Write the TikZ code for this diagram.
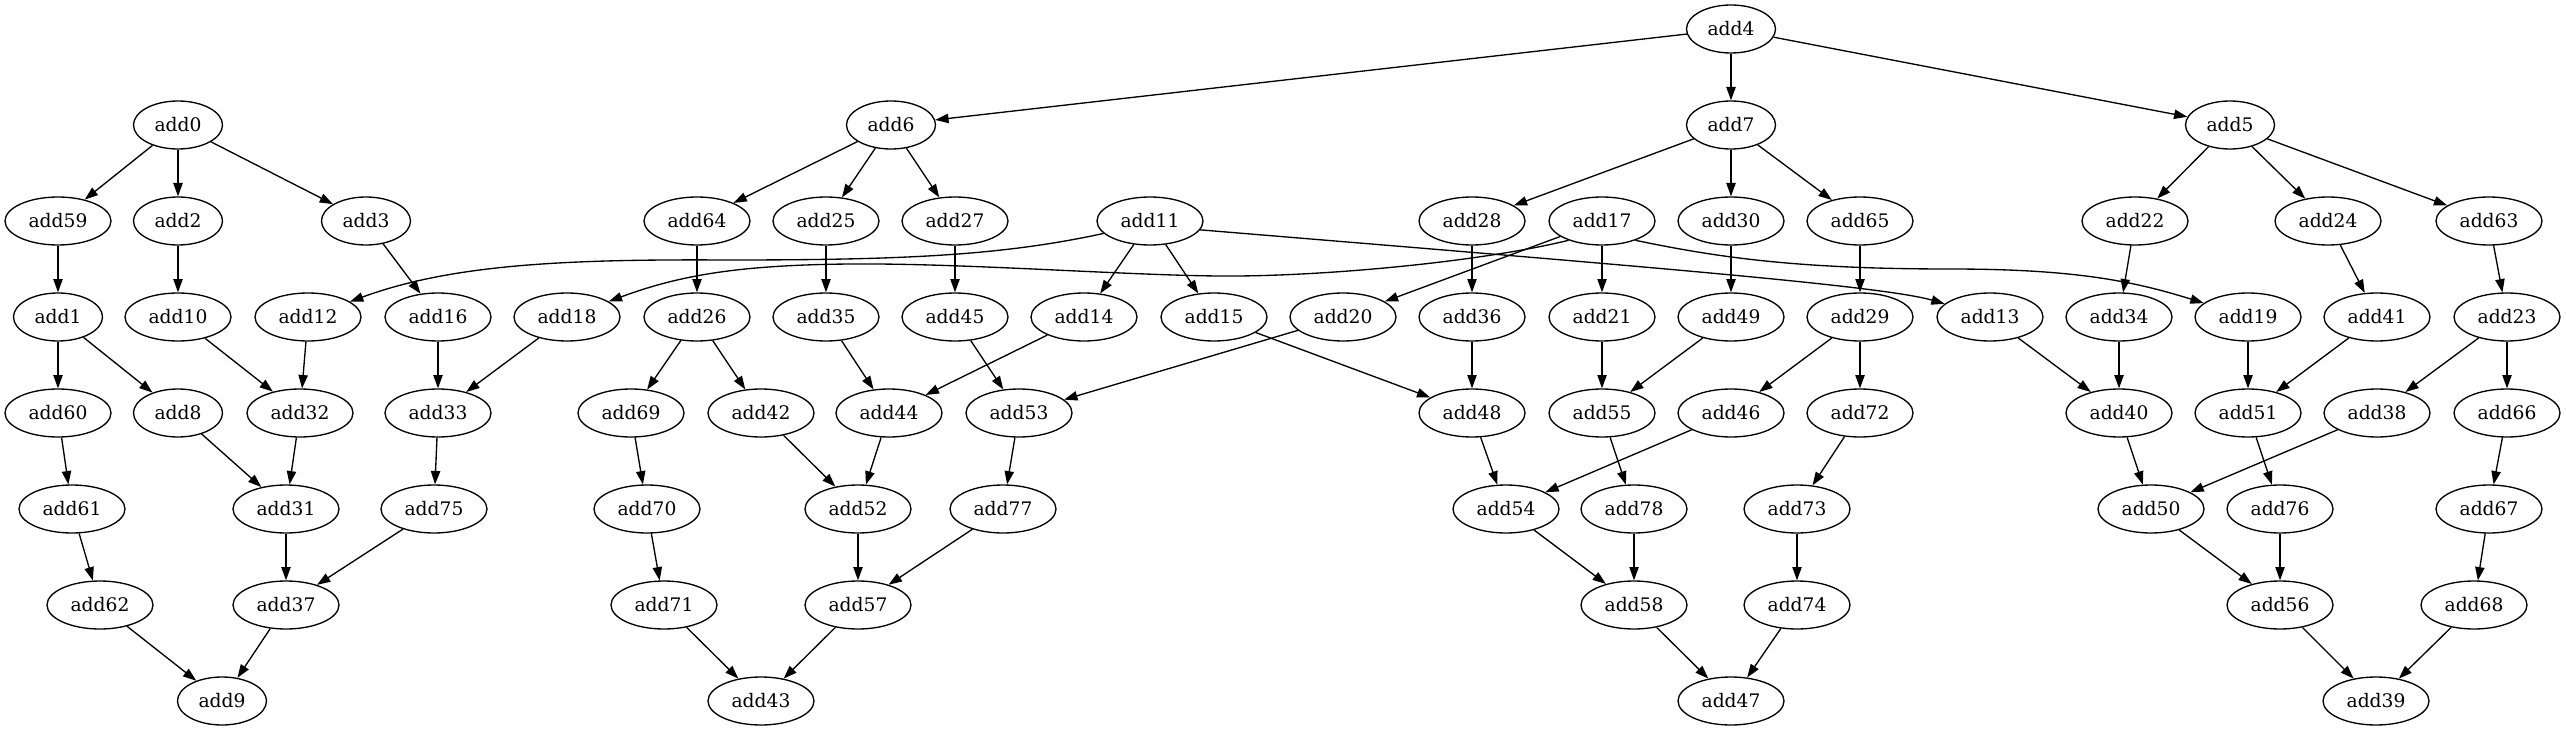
\documentclass[tikz,border=0pt]{standalone}
\usepackage{fontspec}
\setmainfont{DejaVu Serif}
\usetikzlibrary{arrows.meta,shapes.geometric}
\tikzset{
  nl/.style={draw, ellipse, line width=1pt, inner sep=0pt, minimum width=79.5pt, minimum height=36pt, font=\fontsize{14pt}{16pt}\selectfont},
  ns/.style={nl, minimum width=66.75pt},
  cn/.style={-{Triangle[length=10pt,width=7pt]}, line width=1pt},
}
\begin{document}
\begin{tikzpicture}[x=0.75pt,y=-0.75pt]
\useasboundingbox (0,0) rectangle (2566,731);
% row 0
\node[ns] (add4) at (1731,29) {add4};
% row 1
\node[ns] (add0) at (178,125) {add0};
\node[ns] (add6) at (891,125) {add6};
\node[ns] (add7) at (1731,125) {add7};
\node[ns] (add5) at (2230,125) {add5};
% row 2
\node[nl] (add59) at (58,221) {add59};
\node[ns] (add2) at (178,221) {add2};
\node[ns] (add3) at (366,221) {add3};
\node[nl] (add64) at (697,221) {add64};
\node[nl] (add25) at (826,221) {add25};
\node[nl] (add27) at (955,221) {add27};
\node[nl] (add11) at (1150,221) {add11};
\node[nl] (add28) at (1472,221) {add28};
\node[nl] (add17) at (1602,221) {add17};
\node[nl] (add30) at (1731,221) {add30};
\node[nl] (add65) at (1860,221) {add65};
\node[nl] (add22) at (2135,221) {add22};
\node[nl] (add24) at (2328,221) {add24};
\node[nl] (add63) at (2489,221) {add63};
% row 3
\node[ns] (add1) at (58,317) {add1};
\node[nl] (add10) at (178,317) {add10};
\node[nl] (add12) at (308,317) {add12};
\node[nl] (add16) at (438,317) {add16};
\node[nl] (add18) at (567,317) {add18};
\node[nl] (add26) at (697,317) {add26};
\node[nl] (add35) at (826,317) {add35};
\node[nl] (add45) at (955,317) {add45};
\node[nl] (add14) at (1084,317) {add14};
\node[nl] (add15) at (1214,317) {add15};
\node[nl] (add20) at (1343,317) {add20};
\node[nl] (add36) at (1472,317) {add36};
\node[nl] (add21) at (1602,317) {add21};
\node[nl] (add49) at (1731,317) {add49};
\node[nl] (add29) at (1860,317) {add29};
\node[nl] (add13) at (1990,317) {add13};
\node[nl] (add34) at (2119,317) {add34};
\node[nl] (add19) at (2248,317) {add19};
\node[nl] (add41) at (2377,317) {add41};
\node[nl] (add23) at (2507,317) {add23};
% row 4
\node[nl] (add60) at (58,413) {add60};
\node[ns] (add8) at (178,413) {add8};
\node[nl] (add32) at (300,413) {add32};
\node[nl] (add33) at (438,413) {add33};
\node[nl] (add69) at (631,413) {add69};
\node[nl] (add42) at (761,413) {add42};
\node[nl] (add44) at (889,413) {add44};
\node[nl] (add53) at (1019,413) {add53};
\node[nl] (add48) at (1472,413) {add48};
\node[nl] (add55) at (1602,413) {add55};
\node[nl] (add46) at (1731,413) {add46};
\node[nl] (add72) at (1860,413) {add72};
\node[nl] (add40) at (2119,413) {add40};
\node[nl] (add51) at (2248,413) {add51};
\node[nl] (add38) at (2377,413) {add38};
\node[nl] (add66) at (2507,413) {add66};
% row 5
\node[nl] (add61) at (72,509) {add61};
\node[nl] (add31) at (286,509) {add31};
\node[nl] (add75) at (434,509) {add75};
\node[nl] (add70) at (647,509) {add70};
\node[nl] (add52) at (858,509) {add52};
\node[nl] (add77) at (1003,509) {add77};
\node[nl] (add54) at (1506,509) {add54};
\node[nl] (add78) at (1634,509) {add78};
\node[nl] (add73) at (1797,509) {add73};
\node[nl] (add50) at (2151,509) {add50};
\node[nl] (add76) at (2280,509) {add76};
\node[nl] (add67) at (2489,509) {add67};
% row 6
\node[nl] (add62) at (100,605) {add62};
\node[nl] (add37) at (286,605) {add37};
\node[nl] (add71) at (664,605) {add71};
\node[nl] (add57) at (858,605) {add57};
\node[nl] (add58) at (1634,605) {add58};
\node[nl] (add74) at (1797,605) {add74};
\node[nl] (add56) at (2280,605) {add56};
\node[nl] (add68) at (2474,605) {add68};
% row 7
\node[ns] (add9) at (222,701) {add9};
\node[nl] (add43) at (761,701) {add43};
\node[nl] (add47) at (1731,701) {add47};
\node[nl] (add39) at (2376,701) {add39};

% straight edges
\foreach \a/\b in {add4/add6,add4/add7,add4/add5,
  add0/add59,add0/add2,add0/add3,
  add6/add64,add6/add25,add6/add27,
  add7/add28,add7/add30,add7/add65,
  add5/add22,add5/add24,add5/add63,
  add59/add1,add2/add10,add3/add16,add64/add26,add25/add35,add27/add45,
  add11/add14,add11/add15,add28/add36,add17/add20,add17/add21,
  add30/add49,add65/add29,add22/add34,add24/add41,add63/add23,
  add1/add60,add1/add8,add10/add32,add12/add32,add16/add33,add18/add33,
  add26/add69,add26/add42,add35/add44,add45/add53,add14/add44,add15/add48,
  add20/add53,add36/add48,add21/add55,add49/add55,add29/add46,add29/add72,
  add13/add40,add34/add40,add19/add51,add41/add51,add23/add38,add23/add66,
  add60/add61,add8/add31,add32/add31,add33/add75,add69/add70,add42/add52,
  add44/add52,add53/add77,add48/add54,add55/add78,add46/add54,add72/add73,
  add40/add50,add51/add76,add38/add50,add66/add67,
  add61/add62,add31/add37,add75/add37,add70/add71,add52/add57,add77/add57,
  add54/add58,add78/add58,add73/add74,add50/add56,add76/add56,add67/add68,
  add62/add9,add37/add9,add71/add43,add57/add43,add58/add47,add74/add47,
  add56/add39,add68/add39}
  {\draw[cn] (\a) -- (\b);}

% curved edges
\draw[cn] (add11.195) .. controls (1000,256) and (900,260) .. (726,260)
  .. controls (560,259) and (450,265) .. (add12);
\draw[cn] (add17.210) .. controls (1480,262) and (1320,277) .. (1218,276)
  .. controls (1120,275) and (960,263) .. (850,264)
  .. controls (740,265) and (680,275) .. (add18);
\draw[cn] (add11.-10) .. controls (1600,263) and (1880,285) .. (add13);
\draw[cn] (add17.-30) .. controls (1720,258) and (1800,269) .. (1950,269)
  .. controls (2070,269) and (2130,280) .. (add19);
\end{tikzpicture}
\end{document}
